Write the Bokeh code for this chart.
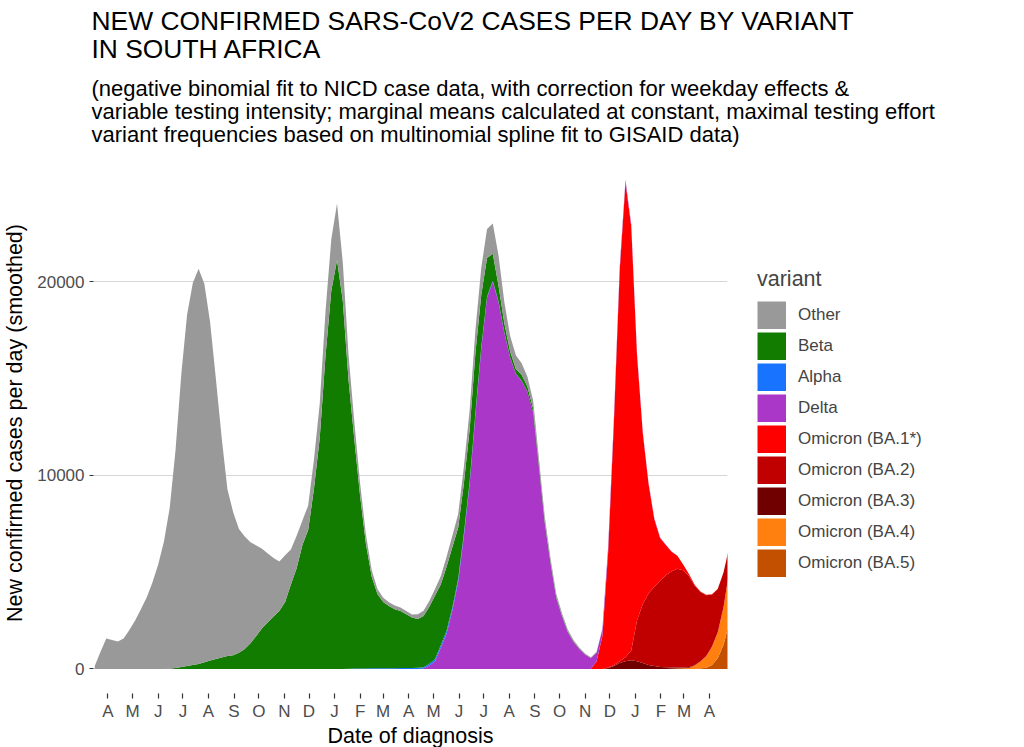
import pandas as pd
from bokeh.plotting import figure
from bokeh.models import (ColumnDataSource, Range1d, FixedTicker, Legend, LegendItem, Title)
from bokeh.embed import file_html
from bokeh.resources import INLINE

FONT = "Liberation Sans"

# weekly grid of diagnosis dates
dates = pd.date_range("2020-03-16", periods=111, freq="7D")

other = [150, 890, 1570, 1490, 1420, 1570, 2010, 2500, 3080, 3690, 4470, 5400, 6580,
         8320, 11240, 15120, 18140, 19740, 20430, 19560, 17490, 14480, 11370, 8630, 7390,
         6400, 5810, 5210, 4680, 4110, 3560, 3020, 2560, 2410, 1810, 1680,
         1270, 1270, 1510, 1780, 2310, 2660, 2920,
         2000, 1300, 900, 650, 480, 350, 260, 220, 200, 190, 180, 170, 160, 250,
         280, 300, 350, 420, 520, 600, 700, 850, 1000, 1200, 1400, 1500, 1560, 1560,
         1100, 800, 700, 600, 500,
         400, 300, 250, 200, 150, 120, 100, 80, 60, 50, 40,
         30, 20, 20, 20, 20, 20, 20, 10, 10, 10, 10, 10] + [0] * 12

beta = [0] * 13 + [10, 50, 100, 150, 200, 250, 340, 430, 510, 590, 660, 710, 830, 1030,
                   1330, 1700, 2100, 2410, 2710, 2990, 3460, 4360, 5200,
                   6400, 7180, 9310, 11930, 16160, 19530, 21130,
                   19010, 14900, 11840, 8920, 6450, 4750, 3840, 3430, 3220, 3050, 2950,
                   2780, 2600, 2520,
                   2640, 2940, 3280, 3140, 3310, 3110, 2640, 2580, 2700, 3100, 2700, 2000,
                   1400, 800, 460, 310, 250, 300, 270,
                   200, 150, 110, 80, 60, 40, 30, 20, 15, 10, 5,
                   5] + [0] * 23

alpha = [0] * 44 + [10, 15, 20, 25, 30, 30, 30, 30, 30, 40, 45, 50, 60,
                    70, 90, 110, 130, 150, 150, 150, 140, 120, 100, 80, 60, 50, 40, 30,
                    20, 15, 10, 5] + [0] * 35

delta = [0] * 57 + [20, 180, 400, 1110, 1830, 3040, 4510, 6900, 9590, 13160, 16540, 19180,
                    20010, 18950, 17370, 16090, 15240, 14890, 14320,
                    13260, 10420, 7540, 5460, 3670, 2720, 1900, 1390, 1030, 740, 560,
                    450, 360, 300, 250, 200, 150, 120, 100, 80, 60, 40, 30, 20, 10] + [0] * 10

ba1 = [0] * 87 + [400, 1700, 5970, 12580, 20180, 24530, 21910, 13710, 8830, 5650, 3490,
                  2210, 1560, 1010, 670, 300, 100, 50, 30, 20, 10, 10, 10, 10]

ba2 = [0] * 89 + [20, 50, 100, 200, 500, 2100, 3050, 3700, 4100, 4450, 4760, 4980, 5110,
                  5030, 4720, 4110, 3580, 3150, 2690, 2230, 1790, 1200]

ba3 = [0] * 89 + [50, 150, 300, 400, 450, 400, 300, 200, 150, 100, 80, 60, 50, 40, 30, 20,
                  10, 10, 5, 0, 0, 0]

ba4 = [0] * 100 + [10, 20, 30, 50, 170, 360, 590, 950, 1350, 1950, 2700]

ba5 = [0] * 105 + [20, 60, 200, 550, 1250, 2400]

variants = ["Other", "Beta", "Alpha", "Delta", "Omicron (BA.1*)", "Omicron (BA.2)",
            "Omicron (BA.3)", "Omicron (BA.4)", "Omicron (BA.5)"]
series = [other, beta, alpha, delta, ba1, ba2, ba3, ba4, ba5]
colors = ["#999999", "#117C00", "#1874FF", "#AA37C8", "#FF0000", "#C00000",
          "#700000", "#FF800E", "#C35000"]

month_labels = ["A", "M", "J", "J", "A", "S", "O", "N", "D", "J", "F", "M",
                "A", "M", "J", "J", "A", "S", "O", "N", "D", "J", "F", "M", "A"]
month_starts = pd.date_range("2020-04-01", periods=len(month_labels), freq="MS")
y_ticks = [0, 10000, 20000]

title_lines = ["NEW CONFIRMED SARS-CoV2 CASES PER DAY BY VARIANT", "IN SOUTH AFRICA"]
subtitle_lines = ["(negative binomial fit to NICD case data, with correction for weekday effects &",
                  "variable testing intensity; marginal means calculated at constant, maximal testing effort",
                  "variant frequencies based on multinomial spline fit to GISAID data)"]

keys = ["v%d" % i for i in range(len(variants))]
data = {"date": dates}
for k, s in zip(keys, series):
    data[k] = s
src = ColumnDataSource(data)

p = figure(x_axis_type="datetime", frame_width=634, frame_height=541,
           output_backend="svg", toolbar_location=None,
           x_range=Range1d(pd.Timestamp("2020-03-14 12:00"), pd.Timestamp("2022-04-22 19:00")),
           y_range=Range1d(-1272, 26690),
           min_border_left=92, min_border_top=0, min_border_bottom=40,
           min_border_right=270)
p.outline_line_color = None
p.background_fill_color = "white"

# stack: bottom = BA.5 ... top = Other
p.varea_stack(stackers=keys[::-1], x="date", color=colors[::-1], source=src)

tick_ms = [ts.value / 1e6 for ts in month_starts]
p.xaxis.ticker = FixedTicker(ticks=tick_ms)
p.xaxis.major_label_overrides = {t: l for t, l in zip(tick_ms, month_labels)}
p.yaxis.ticker = FixedTicker(ticks=y_ticks)
p.xgrid.visible = False
p.ygrid.grid_line_color = "#D6D6D6"
p.ygrid.grid_line_width = 1.2

for ax in (p.xaxis[0], p.yaxis[0]):
    ax.axis_line_color = None
    ax.major_tick_in = 0
    ax.minor_tick_line_color = None
    ax.major_tick_line_color = "#333333"
    ax.major_tick_line_width = 1.2
    ax.major_label_text_font = FONT
    ax.major_label_text_font_size = "17px"
    ax.major_label_text_color = "#4D4D4D"
    ax.axis_label_text_font = FONT
    ax.axis_label_text_font_size = "21.5px"
    ax.axis_label_text_font_style = "normal"
    ax.axis_label_text_color = "black"

p.xaxis.major_tick_out = 5
p.xaxis.major_label_standoff = 3
p.xaxis.axis_label = "Date of diagnosis"
p.xaxis.axis_label_standoff = 0
p.yaxis.major_tick_out = 4
p.yaxis.major_label_standoff = 5
p.yaxis.axis_label = "New confirmed cases per day (smoothed)"
p.yaxis.axis_label_standoff = 7

# heading: subtitle nearest to the plot, title above it
p.add_layout(Title(text="\n".join(subtitle_lines), text_font=FONT, text_font_size="22px",
                   text_font_style="normal", text_color="black", text_line_height=0.915,
                   align="left", offset=-2, standoff=12), "above")
p.add_layout(Title(text="\n".join(title_lines), text_font=FONT, text_font_size="26.4px",
                   text_font_style="normal", text_color="black", text_line_height=0.96,
                   align="left", offset=-2, standoff=6), "above")

# legend keys: thick-line proxies (one NaN point each, nothing drawn in the plot)
items = []
for v, c in zip(variants, colors):
    r = p.line(x=[dates[0]], y=[float("nan")], line_width=28, line_color=c, line_cap="butt")
    items.append(LegendItem(label=v, renderers=[r]))
legend = Legend(items=items, title="variant", location=(30, 116),
                glyph_width=29, glyph_height=28, spacing=3, label_standoff=12,
                padding=0, margin=0,
                label_text_font=FONT, label_text_font_size="17px",
                title_text_font=FONT, title_text_font_size="21.5px",
                title_text_font_style="normal", title_standoff=9,
                border_line_color=None, background_fill_alpha=0)
p.add_layout(legend, "right")

open("out.html", "w").write(file_html(p, INLINE))
